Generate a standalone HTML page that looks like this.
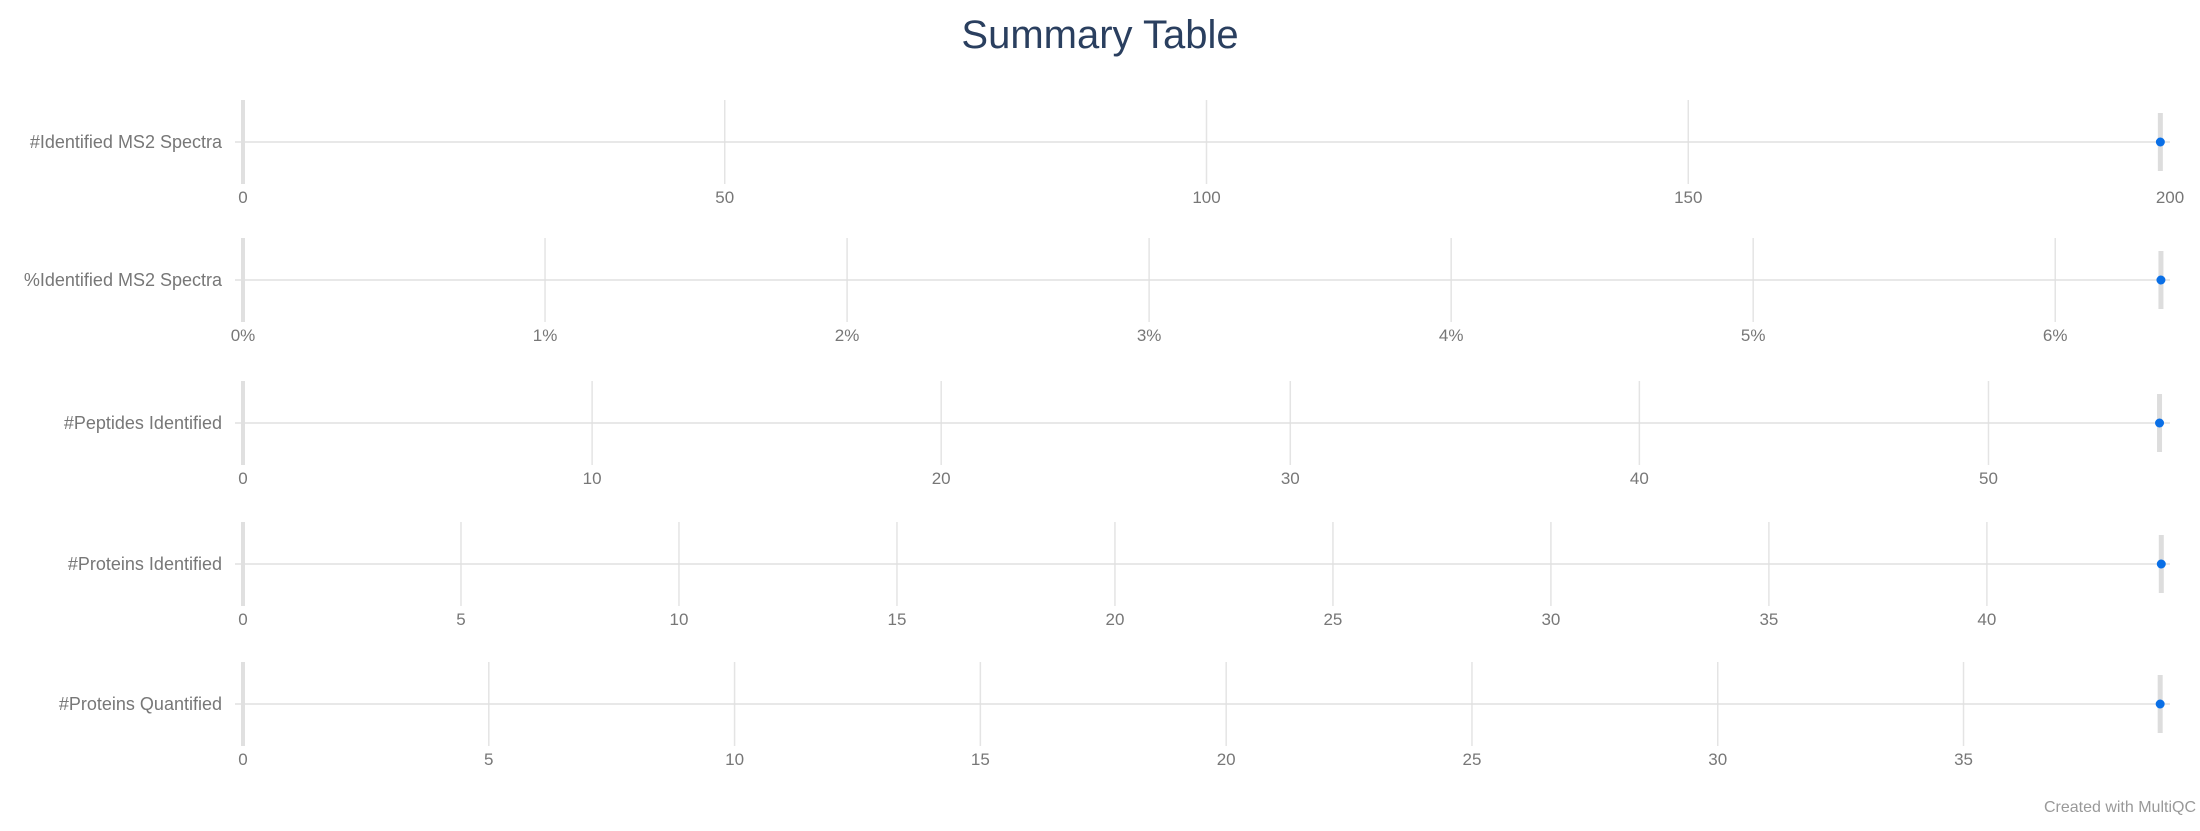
<!DOCTYPE html>
<html><head><meta charset="utf-8"><style>
body{margin:0;background:#fff;width:2200px;height:826px;overflow:hidden;font-family:"Liberation Sans",sans-serif}
</style></head><body>
<svg id="chart" width="2200" height="826">
<text x="1100" y="48" text-anchor="middle" font-size="40" fill="#2a3f5f">Summary Table</text>
<text x="2196" y="812" text-anchor="end" font-size="16" fill="#999">Created with MultiQC</text>
</svg>
<script>
const metrics = ["#Identified MS2 Spectra","%Identified MS2 Spectra","#Peptides Identified","#Proteins Identified","#Proteins Quantified"];
const values = [199, 6.35, 54.9, 44, 39];
const axisMax = [200, 6.38, 55.2, 44.2, 39.2];
const tickStep = [50, 1, 10, 5, 5];
const tickSuffix = ["", "%", "", "", ""];
const rowY = [142, 280, 423, 564, 704];
const X0 = 243, X1 = 2170;
const svg = document.getElementById('chart');
const NS = 'http://www.w3.org/2000/svg';
function mk(tag, attrs){const e=document.createElementNS(NS,tag);for(const k in attrs)e.setAttribute(k,attrs[k]);svg.appendChild(e);return e;}
metrics.forEach((m,i)=>{
  const y = rowY[i];
  const xs = v => X0 + (v/axisMax[i])*(X1-X0);
  for(let t=0;t<=axisMax[i]+1e-9;t+=tickStep[i]){
    const x = xs(t);
    if (x < X1 - 5) {
      const g = mk('line',{x1:x,x2:x,y1:y-42,y2:y+42,stroke:t===0?'#e0e0e0':'#e4e4e4','stroke-width':t===0?4:1.5});
      
      
    }
    const tl = mk('text',{x:x,y:y+61,'text-anchor':'middle','font-size':17,fill:'#777'});
    tl.textContent = (Math.round(t*100)/100) + tickSuffix[i];
    
    
  }
  const hl = mk('line',{x1:X0-8,x2:X1,y1:y,y2:y,stroke:'#e0e0e0','stroke-width':1.5});
  
  
  const lb = mk('text',{x:222,y:y+6,'text-anchor':'end','font-size':18,fill:'#777'});
  lb.textContent = m;
  
  
  const px = xs(values[i]);
  const bar = mk('line',{x1:px,x2:px,y1:y-29,y2:y+29,stroke:'#ddd','stroke-width':5});
  
  
  const pt = mk('circle',{cx:px,cy:y,r:4.5,fill:'#0a6fe6'});
  
  
});
</script>
</body></html>
